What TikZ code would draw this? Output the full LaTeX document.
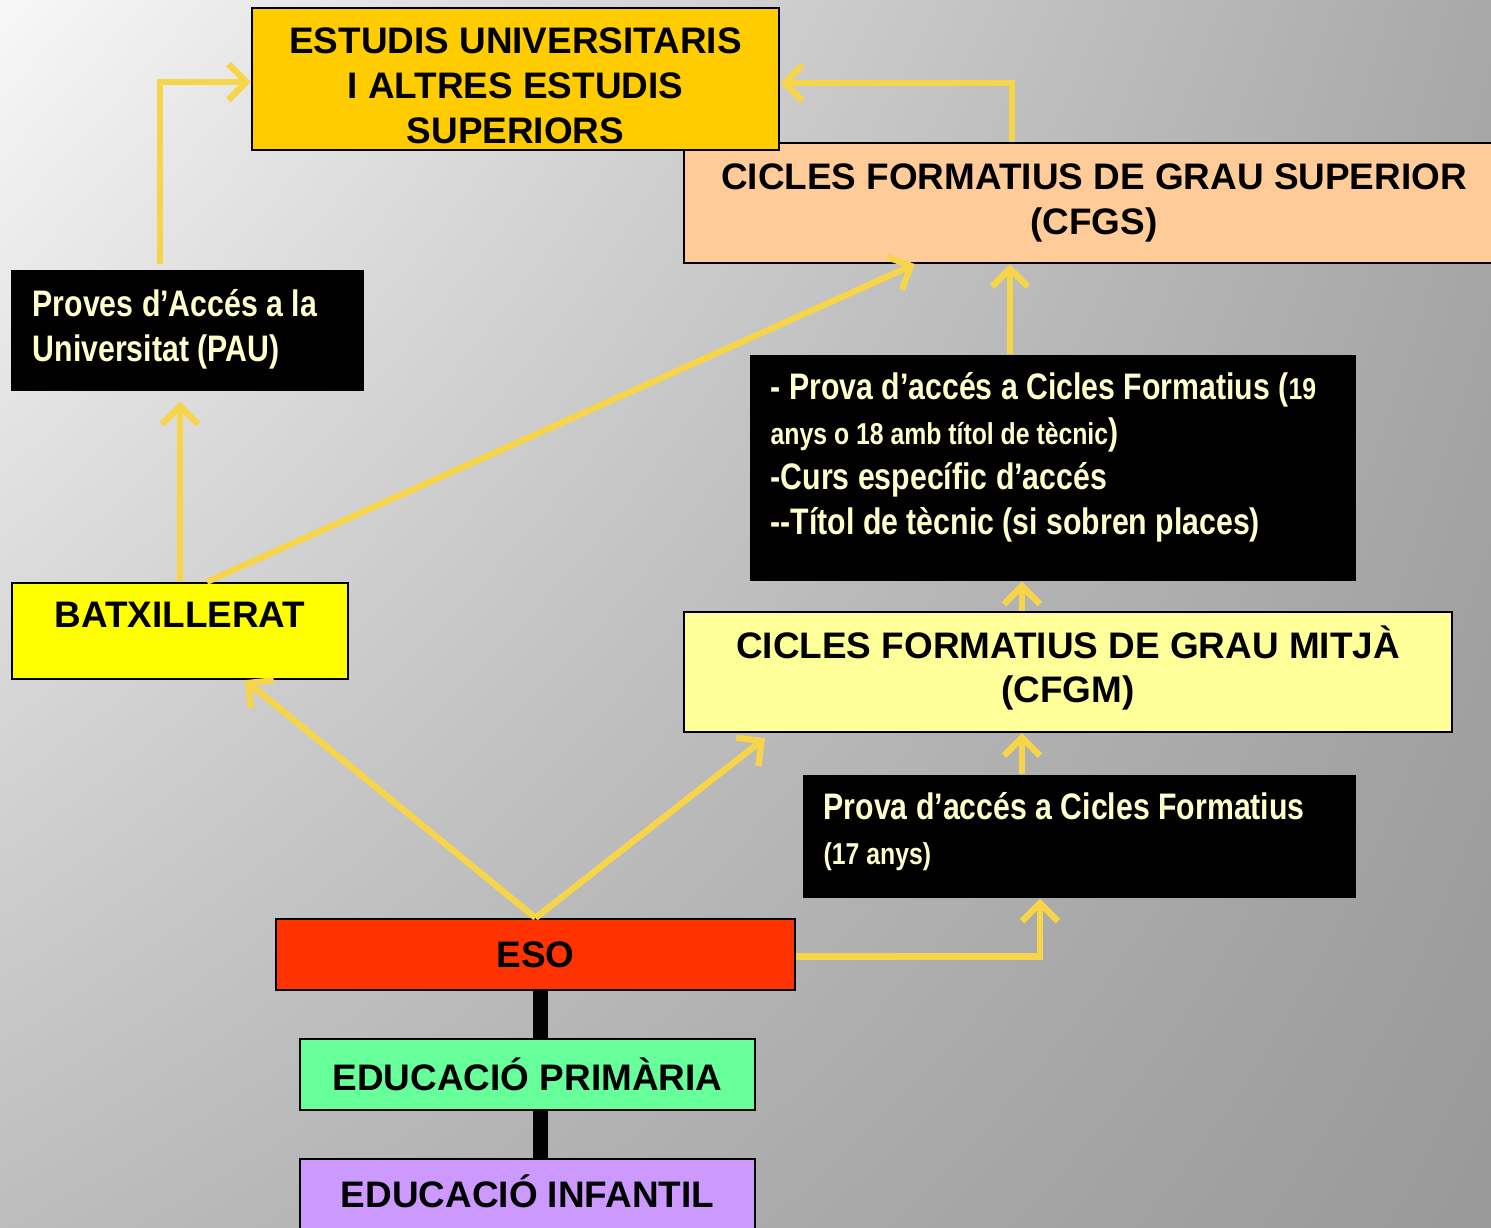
\documentclass[tikz,border=0pt]{standalone}
\usepackage{fontspec}
\setmainfont{Liberation Sans}
\newfontfamily\narrowfont[FakeStretch=0.82]{Liberation Sans}
\usetikzlibrary{arrows.meta}
\usetikzlibrary{positioning}
\usetikzlibrary{shadings}

\definecolor{univgold}{HTML}{FFCC00}
\definecolor{cfgspeach}{HTML}{FFCC99}
\definecolor{batxyellow}{HTML}{FFFF00}
\definecolor{cfgmyellow}{HTML}{FFFF99}
\definecolor{esored}{HTML}{FF3300}
\definecolor{primgreen}{HTML}{66FF99}
\definecolor{infviolet}{HTML}{CC99FF}
\definecolor{flowyellow}{RGB}{247,213,74}
\definecolor{cream}{HTML}{FFFFCC}

\tikzset{
    stagebox/.style={draw=black, line width=0.65pt, inner sep=0pt, align=center,
        font=\bfseries\fontsize{10.5}{12.8}\selectfont},
    stagetext/.style={inner sep=0pt, align=center, font=\bfseries\fontsize{10.5}{12.8}\selectfont},
    darkbox/.style={fill=black, inner sep=0pt},
    darktext/.style={text=cream, align=left, inner sep=0pt,
        font=\narrowfont\bfseries\fontsize{10.5}{12.8}\selectfont},
    flow/.style={draw=flowyellow, line width=1.8pt,
        -{Straight Barb[length=0.18cm, width=0.36cm]}},
    link/.style={draw=black, line width=4pt}
}

\begin{document}
\begin{tikzpicture}
    \clip (0, 0) rectangle (14.91, 12.28);
    \shade[upper left=black!3, upper right=black!34, lower left=black!26, lower right=black!40]
        (0, 0) rectangle (14.91, 12.28);

    % upper levels
    \node[stagebox, fill=cfgspeach, minimum width=8.2cm, minimum height=1.20cm] (cfgs) at (10.94, 10.25)
        {CICLES FORMATIUS DE GRAU SUPERIOR\\(CFGS)};
    \node[stagebox, fill=univgold, minimum width=5.27cm, minimum height=1.42cm] (univ) at (5.155, 11.49) {};
    \node[stagetext] (univtext) at (5.155, 11.42) {ESTUDIS UNIVERSITARIS\\I ALTRES ESTUDIS\\SUPERIORS};

    \node[darkbox, minimum width=3.53cm, minimum height=1.21cm] (pau) at (1.875, 8.975) {};
    \node[darktext, anchor=west] (pautext) at (0.32, 8.99) {Proves d’Accés a la\\Universitat (PAU)};

    \node[darkbox, minimum width=6.06cm, minimum height=2.26cm] (prova19) at (10.53, 7.60) {};
    \node[darktext, anchor=north west] (prova19text) at (7.70, 8.56)
        {- Prova d’accés a Cicles Formatius ({\fontsize{8.6}{12.6}\selectfont 19}\\
         {\fontsize{8.6}{12.6}\selectfont anys o 18 amb títol de tècnic})\\
         -Curs específic d’accés\\
         --Títol de tècnic (si sobren places)};

    % middle levels
    \node[stagebox, fill=batxyellow, minimum width=3.36cm, minimum height=0.96cm] (batx) at (1.80, 5.97) {};
    \node[stagetext] (batxtext) at (1.80, 6.13) {BATXILLERAT};

    \node[stagebox, fill=cfgmyellow, minimum width=7.68cm, minimum height=1.20cm] (cfgm) at (10.68, 5.56) {};
    \node[stagetext] (cfgmtext) at (10.68, 5.60) {CICLES FORMATIUS DE GRAU MITJÀ\\(CFGM)};

    \node[darkbox, minimum width=5.53cm, minimum height=1.23cm] (prova17) at (10.795, 3.915) {};
    \node[darktext, anchor=north west] (prova17text) at (8.23, 4.36)
        {Prova d’accés a Cicles Formatius\\
         {\fontsize{8.6}{12.6}\selectfont (17 anys)}};

    % compulsory levels
    \node[stagebox, fill=esored, minimum width=5.19cm, minimum height=0.71cm] (eso) at (5.355, 2.735) {ESO};
    \node[stagebox, fill=primgreen, minimum width=4.55cm, minimum height=0.71cm] (prim) at (5.275, 1.535)
        {EDUCACIÓ PRIMÀRIA};
    \node[stagebox, fill=infviolet, minimum width=4.55cm, minimum height=1.0cm] (inf) at (5.275, 0.19) {};
    \node[stagetext] (inftext) at (5.275, 0.37) {EDUCACIÓ INFANTIL};

    \coordinate (spine) at ([xshift=0.05cm]eso.south);
    \draw[link] (spine) -- (spine |- prim.north);
    \draw[link] (spine |- prim.south) -- (spine |- inf.north);

    % yellow paths
    \draw[flow] ([xshift=-0.275cm, yshift=0.05cm]pau.north) |- ([yshift=-0.03cm]univ.west);
    \draw[flow] ([xshift=-0.82cm]cfgs.north) |- ([yshift=-0.04cm]univ.east);
    \draw[flow, shorten >=0.1cm] (batx.north) -- (batx.north |- pau.south);
    \draw[flow] ([xshift=0.27cm]batx.north) -- ([xshift=-1.79cm]cfgs.south);

    \coordinate (p19top) at ([xshift=-0.43cm]prova19.north);
    \draw[flow] (p19top) -- (p19top |- cfgs.south);
    \coordinate (cfgmtop) at ([xshift=-0.46cm]cfgm.north);
    \draw[flow] (cfgmtop) -- (cfgmtop |- prova19.south);
    \coordinate (p17top) at ([xshift=-0.575cm]prova17.north);
    \draw[flow] (p17top) -- (p17top |- cfgm.south);

    \draw[flow] (eso.north) -- ([xshift=0.65cm]batx.south);
    \draw[flow] (eso.north) -- ([xshift=-3.03cm, yshift=-0.05cm]cfgm.south);
    \draw[flow] ([yshift=-0.02cm]eso.east) -| ([xshift=-0.395cm]prova17.south);
\end{tikzpicture}
\end{document}
